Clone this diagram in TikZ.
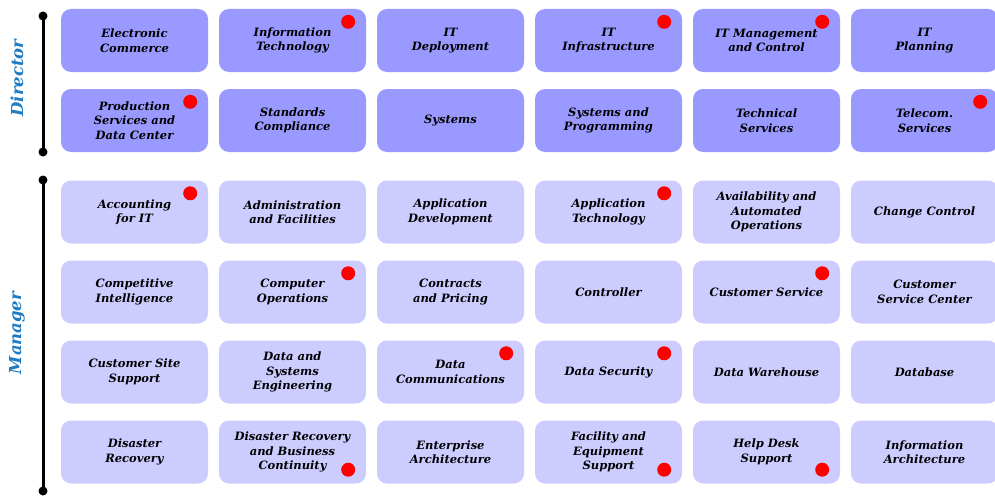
\documentclass[tikz,border=0pt]{standalone}
\usepackage{fontspec}
\setmainfont{DejaVu Serif}
\definecolor{dirfill}{HTML}{9999FF}
\definecolor{mgrfill}{HTML}{CCCCFF}
\definecolor{rolecol}{HTML}{1F7BC2}

\begin{document}
\begin{tikzpicture}[x=1pt, y=-1pt,
    dirbox/.style={fill=dirfill, rounded corners=10pt, minimum width=147pt, minimum height=63pt,
        inner sep=0pt, align=center, font=\bfseries\itshape\fontsize{11.5}{14.5}\selectfont},
    mgrbox/.style={dirbox, fill=mgrfill},
    flag/.style={fill=red},
    spine/.style={line width=3pt},
    rolelabel/.style={rotate=90, text=rolecol, font=\bfseries\itshape\fontsize{16.5}{18}\selectfont}]
    \useasboundingbox (0,0) rectangle (995,495);

    % Director boxes
    \node[dirbox] (ecom)     at (134.5,40.5) {Electronic\\Commerce};
    \node[dirbox] (infotech) at (292.5,40.5) {Information\\Technology};
    \node[dirbox] (itdeploy) at (450.5,40.5) {IT\\Deployment};
    \node[dirbox] (itinfra)  at (608.5,40.5) {IT\\Infrastructure};
    \node[dirbox] (itmgmt)   at (766.5,40.5) {IT Management\\and Control};
    \node[dirbox] (itplan)   at (924.5,40.5) {IT\\Planning};

    \node[dirbox] (prodsvc)  at (134.5,120.5) {Production\\Services and\\Data Center};
    \node[dirbox] (stdcomp)  at (292.5,120.5) {Standards\\Compliance};
    \node[dirbox] (systems)  at (450.5,120.5) {Systems};
    \node[dirbox] (sysprog)  at (608.5,120.5) {Systems and\\Programming};
    \node[dirbox] (techsvc)  at (766.5,120.5) {Technical\\Services};
    \node[dirbox] (telecom)  at (924.5,120.5) {Telecom.\\Services};

    % Manager boxes
    \node[mgrbox] (acctit)     at (134.5,212) {Accounting\\for IT};
    \node[mgrbox] (adminfac)   at (292.5,212) {Administration\\and Facilities};
    \node[mgrbox] (appdev)     at (450.5,212) {Application\\Development};
    \node[mgrbox] (apptech)    at (608.5,212) {Application\\Technology};
    \node[mgrbox] (availops)   at (766.5,212) {Availability and\\Automated\\Operations};
    \node[mgrbox] (chgctrl)    at (924.5,212) {Change Control};

    \node[mgrbox] (compintel)  at (134.5,292) {Competitive\\Intelligence};
    \node[mgrbox] (compops)    at (292.5,292) {Computer\\Operations};
    \node[mgrbox] (contracts)  at (450.5,292) {Contracts\\and Pricing};
    \node[mgrbox] (controller) at (608.5,292) {Controller};
    \node[mgrbox] (custsvc)    at (766.5,292) {Customer Service};
    \node[mgrbox] (custsvcctr) at (924.5,292) {Customer\\Service Center};

    \node[mgrbox] (custsite)   at (134.5,372) {Customer Site\\Support};
    \node[mgrbox] (datasys)    at (292.5,372) {Data and\\Systems\\Engineering};
    \node[mgrbox] (datacomm)   at (450.5,372) {Data\\Communications};
    \node[mgrbox] (datasec)    at (608.5,372) {Data Security};
    \node[mgrbox] (datawh)     at (766.5,372) {Data Warehouse};
    \node[mgrbox] (database)   at (924.5,372) {Database};

    \node[mgrbox] (disrec)     at (134.5,452) {Disaster\\Recovery};
    \node[mgrbox] (disrecbc)   at (292.5,452) {Disaster Recovery\\and Business\\Continuity};
    \node[mgrbox] (entarch)    at (450.5,452) {Enterprise\\Architecture};
    \node[mgrbox] (facequip)   at (608.5,452) {Facility and\\Equipment\\Support};
    \node[mgrbox] (helpdesk)   at (766.5,452) {Help Desk\\Support};
    \node[mgrbox] (infoarch)   at (924.5,452) {Information\\Architecture};

    % Red flags
    \foreach \b in {infotech, itinfra, itmgmt, prodsvc, telecom, acctit, apptech, compops, custsvc, datacomm, datasec}
        \fill[flag] ([xshift=-18pt, yshift=-13pt]\b.north east) circle (7pt);
    \foreach \b in {disrecbc, facequip, helpdesk}
        \fill[flag] ([xshift=-18pt, yshift=14pt]\b.south east) circle (7pt);

    % Level spines
    \coordinate (dirtop) at (43,16);
    \coordinate (dirbot) at (43,152);
    \coordinate (mgrtop) at (43,180);
    \coordinate (mgrbot) at (43,491);
    \draw[spine] (dirtop) -- (dirbot);
    \draw[spine] (mgrtop) -- (mgrbot);
    \foreach \p in {dirtop, dirbot, mgrtop, mgrbot}
        \fill (\p) circle (4.5pt);

    % Level labels
    \node[rolelabel] (dirlabel) at (17,78) {Director};
    \node[rolelabel] (mgrlabel) at (17,333) {Manager};
\end{tikzpicture}
\end{document}
